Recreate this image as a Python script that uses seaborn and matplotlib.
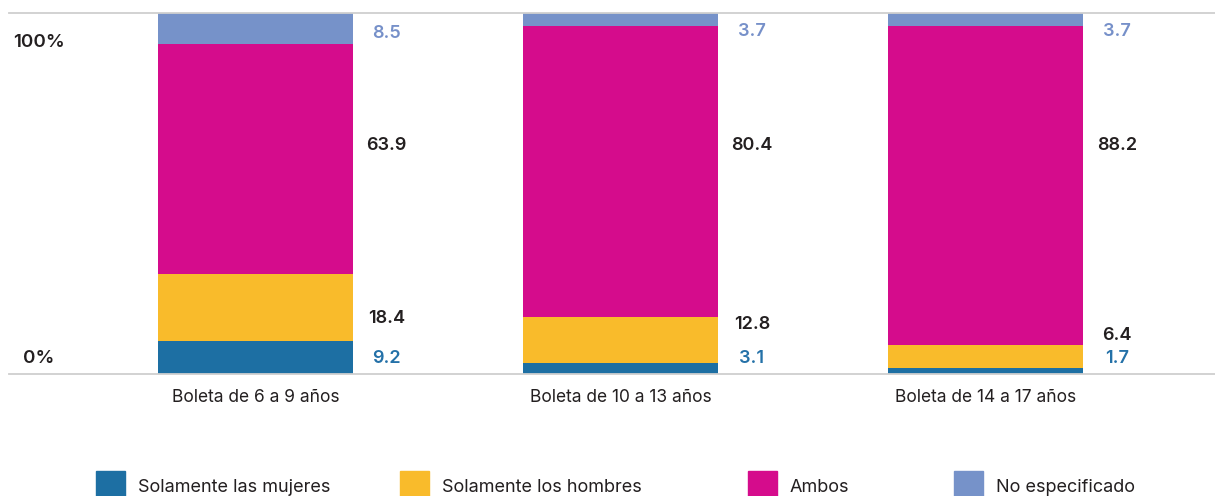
import numpy as np
import pandas as pd
import matplotlib.pyplot as plt
import seaborn as sns
from matplotlib.patches import Patch

# datos
categorias = ["Boleta de 6 a 9 años", "Boleta de 10 a 13 años", "Boleta de 14 a 17 años"]
series = ["Solamente las mujeres", "Solamente los hombres", "Ambos", "No especificado"]
solo_mujeres = [9.2, 3.1, 1.7]
solo_hombres = [18.4, 12.8, 6.4]
ambos = [63.9, 80.4, 88.2]
no_especificado = [8.5, 3.7, 3.7]

# layout of the value labels (y position in % units)
label_y = {
    "Solamente las mujeres": [4.4, 4.4, 4.4],
    "Solamente los hombres": [15.5, 13.6, 10.8],
    "Ambos": [63.4, 63.4, 63.4],
    "No especificado": [94.2, 95.0, 95.0],
}
colores = {"Solamente las mujeres": "#1d6fa3", "Solamente los hombres": "#f9bb2b",
           "Ambos": "#d50c8c", "No especificado": "#7692c9"}
colores_txt = {"Solamente las mujeres": "#2471a8", "Solamente los hombres": "#231f20",
               "Ambos": "#231f20", "No especificado": "#7690c9"}

df = pd.DataFrame({"categoria": categorias,
                   "Solamente las mujeres": solo_mujeres,
                   "Solamente los hombres": solo_hombres,
                   "Ambos": ambos,
                   "No especificado": no_especificado})
cum = df[series].cumsum(axis=1)

sns.set_theme(style="white")
plt.rcParams['font.family'] = ['Inter', 'DejaVu Sans']

W, H = 1215, 496
fig = plt.figure(figsize=(W / 100, H / 100), dpi=100)
ax = fig.add_axes([9 / W, 122 / H, 1206 / W, 361 / H])

# stacked bars: draw cumulative totals from top to bottom
for s in reversed(series):
    sns.barplot(x=df["categoria"], y=cum[s], color=colores[s], width=0.534,
                linewidth=0, saturation=1, ax=ax)

for i in range(len(categorias)):
    for s in series:
        ax.text(i + 0.36, label_y[s][i], f"{df[s][i]:.1f}", ha="center", va="center",
                fontsize=13, fontweight="semibold", color=colores_txt[s])

ax.text(-0.593, 91.7, "100%", ha="center", va="center", fontsize=13.5, fontweight="semibold", color="#231f20")
ax.text(-0.593, 4.4, "0%", ha="center", va="center", fontsize=13.5, fontweight="semibold", color="#231f20")

ax.set_xlim(-0.675, 2.629)
ax.set_ylim(0, 100)
ax.set_yticks([])
ax.set_xlabel("")
ax.set_ylabel("")
ax.tick_params(axis="x", length=0, pad=11, labelsize=12.5, labelcolor="#231f20")
for side in ["left", "right"]:
    ax.spines[side].set_visible(False)
for side in ["top", "bottom"]:
    ax.spines[side].set_color("#cfcfcf")
    ax.spines[side].set_linewidth(1.3)

# legend: one entry per slot
leg_x = [96, 400, 748, 954]
for s, x in zip(series, leg_x):
    lg = fig.legend(handles=[Patch(color=colores[s], label=s)], loc="lower left",
                    bbox_to_anchor=(x / W, -5 / H), frameon=False, fontsize=13,
                    handlelength=1.6, handleheight=2.15, handletextpad=0.7,
                    borderpad=0, borderaxespad=0)
    for t in lg.get_texts():
        t.set_color("#231f20")

fig.savefig("out.png", dpi=100)
